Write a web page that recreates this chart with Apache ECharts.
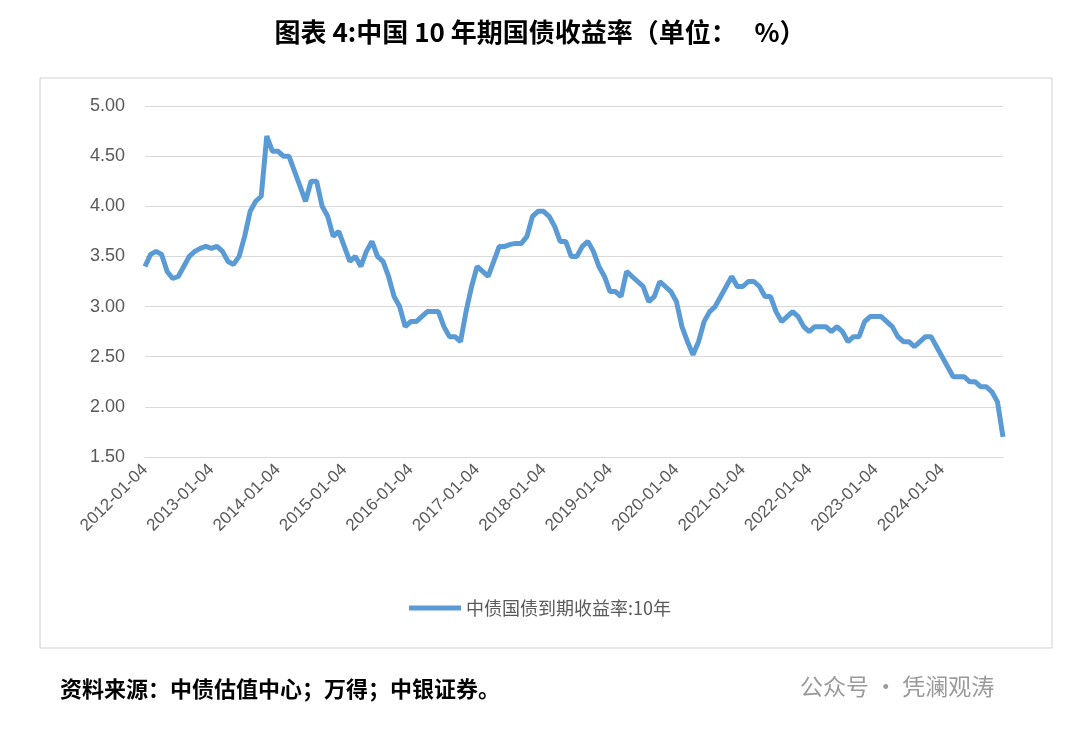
<!doctype html>
<html>
<head>
<meta charset="UTF-8">
<title>中国10年期国债收益率</title>
<script src="https://cdn.jsdelivr.net/npm/echarts@6/dist/echarts.min.js"></script>
<style>
	html, body { margin: 0; padding: 0; background: #fff; }
	#chart { width: 1080px; height: 734px; }
</style>
</head>
<body>
<div id="chart"></div>
<script type="text/javascript">
var years = [2012, 2013, 2014, 2015, 2016, 2017, 2018, 2019, 2020, 2021, 2022, 2023, 2024];
// 月度收益率 (%)，按年排列
var yield2012 = [3.40, 3.52, 3.55, 3.52, 3.35, 3.28, 3.30, 3.40, 3.50, 3.55, 3.58, 3.60];
var yield2013 = [3.58, 3.60, 3.55, 3.45, 3.42, 3.50, 3.70, 3.95, 4.05, 4.10, 4.70, 4.55];
var yield2014 = [4.55, 4.50, 4.50, 4.35, 4.20, 4.05, 4.25, 4.25, 4.00, 3.90, 3.70, 3.75];
var yield2015 = [3.60, 3.45, 3.50, 3.40, 3.55, 3.65, 3.50, 3.45, 3.30, 3.10, 3.00, 2.80];
var yield2016 = [2.85, 2.85, 2.90, 2.95, 2.95, 2.95, 2.80, 2.70, 2.70, 2.65, 2.95, 3.20];
var yield2017 = [3.40, 3.35, 3.30, 3.45, 3.60, 3.60, 3.62, 3.63, 3.63, 3.70, 3.90, 3.95];
var yield2018 = [3.95, 3.90, 3.80, 3.65, 3.65, 3.50, 3.50, 3.60, 3.65, 3.55, 3.40, 3.30];
var yield2019 = [3.15, 3.15, 3.10, 3.35, 3.30, 3.25, 3.20, 3.05, 3.10, 3.25, 3.20, 3.15];
var yield2020 = [3.05, 2.80, 2.65, 2.52, 2.65, 2.85, 2.95, 3.00, 3.10, 3.20, 3.30, 3.20];
var yield2021 = [3.20, 3.25, 3.25, 3.20, 3.10, 3.10, 2.95, 2.85, 2.90, 2.95, 2.90, 2.80];
var yield2022 = [2.75, 2.80, 2.80, 2.80, 2.75, 2.80, 2.75, 2.65, 2.70, 2.70, 2.85, 2.90];
var yield2023 = [2.90, 2.90, 2.85, 2.80, 2.70, 2.65, 2.65, 2.60, 2.65, 2.70, 2.70, 2.60];
var yield2024 = [2.50, 2.40, 2.30, 2.30, 2.30, 2.25, 2.25, 2.20, 2.20, 2.15, 2.05, 1.70];
var yieldByYear = [yield2012, yield2013, yield2014, yield2015, yield2016, yield2017, yield2018,
	yield2019, yield2020, yield2021, yield2022, yield2023, yield2024];

var dates = [];
var values = [];
for (var i = 0; i < years.length; i++) {
	for (var m = 0; m < 12; m++) {
		var mm = m < 9 ? '0' + (m + 1) : '' + (m + 1);
		dates.push(years[i] + '-' + mm + '-04');
		values.push(yieldByYear[i][m]);
	}
}

var chart = echarts.init(document.getElementById('chart'));
chart.setOption({
	animation: false,
	title: {
		text: '图表 4:中国 10 年期国债收益率（单位：   %）',
		left: 'center', top: 14,
		textStyle: { fontFamily: 'Noto Sans CJK SC', fontWeight: 'bold', fontSize: 26, color: '#000' }
	},
	graphic: [
		{ type: 'rect', shape: { x: 40, y: 78, width: 1012, height: 570 },
			style: { fill: 'none', stroke: '#d0d0d0', lineWidth: 1 } },
		{ type: 'text', left: 60, top: 678,
			style: { text: '资料来源：中债估值中心；万得；中银证券。', fontFamily: 'Noto Sans CJK SC', fontWeight: 'bold', fontSize: 22, fill: '#000' } },
		{ type: 'text', left: 800, top: 675,
			style: { text: '公众号 · 凭澜观涛', fontFamily: 'Noto Sans CJK SC', fontSize: 23, fill: '#9a9a9a' } }
	],
	grid: { left: 145, right: 77, top: 106, bottom: 277 },
	legend: {
		bottom: 112, left: 'center',
		itemWidth: 52, itemHeight: 5, icon: 'rect',
		textStyle: { fontSize: 18, color: '#595959', fontFamily: 'Noto Sans CJK SC' },
		data: ['中债国债到期收益率:10年']
	},
	xAxis: {
		type: 'category', boundaryGap: false, data: dates,
		axisLine: { lineStyle: { color: '#d9d9d9' } },
		axisTick: { show: false },
		axisLabel: {
			rotate: 45, fontSize: 17, color: '#595959', margin: 10,
			interval: function (idx) { return idx % 12 === 0; }
		}
	},
	yAxis: {
		type: 'value', min: 1.5, max: 5, interval: 0.5,
		axisLabel: { fontSize: 18, color: '#595959', margin: 20, formatter: function (v) { return v.toFixed(2); } },
		splitLine: { lineStyle: { color: '#d9d9d9' } },
		axisLine: { show: false }, axisTick: { show: false }
	},
	series: [{
		name: '中债国债到期收益率:10年', type: 'line', data: values,
		showSymbol: false, smooth: false,
		lineStyle: { color: '#5b9bd5', width: 5 },
		itemStyle: { color: '#5b9bd5' }
	}]
});
</script>
</body>
</html>
